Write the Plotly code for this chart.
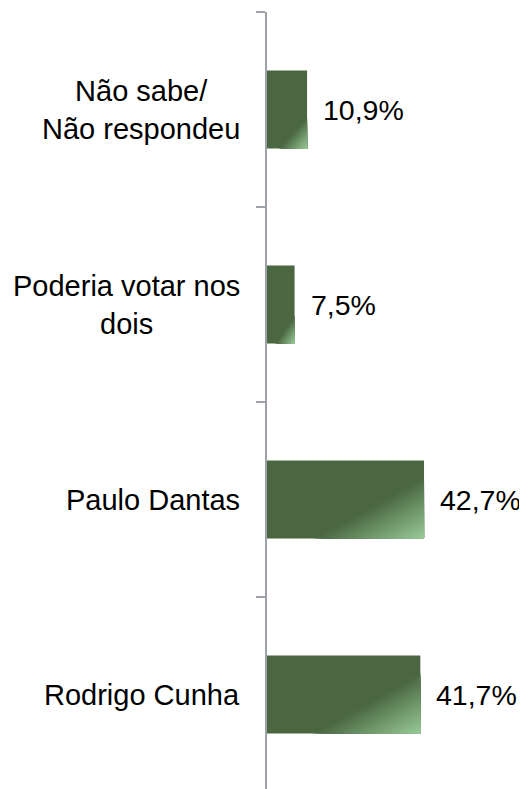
import plotly.graph_objects as go

# Data (bottom to top)
categories = ["Rodrigo Cunha", "Paulo Dantas", "Poderia votar nos<br>dois", "Não sabe/<br>Não respondeu"]
values = [41.7, 42.7, 7.5, 10.9]

DARK = (74, 103, 65)
LIGHT = (152, 202, 152)
BAR_W = 0.4
FONT = "Arial, Liberation Sans, sans-serif"

fig = go.Figure()
fig.add_trace(go.Bar(
    x=values, y=list(range(len(values))), orientation="h", width=BAR_W,
    marker=dict(color="rgb(%d,%d,%d)" % DARK, line=dict(width=0)),
    hoverinfo="skip", showlegend=False,
))

# diagonal gradient in the lower-right corner of each bar (nested triangles)
steps = 28
vmax = max(values)
for k in range(steps):
    s = 1 - k / steps
    f = (k + 0.5) / steps
    col = tuple(int(round(DARK[i] + (LIGHT[i] - DARK[i]) * f)) for i in range(3))
    xs, ys = [], []
    for i, v in enumerate(values):
        fb = 0.7
        fr = 0.4 + (v - 10.9) * (0.385 / 31.8)
        bot = i - BAR_W / 2
        xs += [v - s * fb * v, v, v, v - s * fb * v, None]
        ys += [bot, bot, bot + s * fr * BAR_W, bot, None]
    fig.add_trace(go.Scatter(
        x=xs, y=ys, mode="lines", fill="toself", line=dict(width=0),
        fillcolor="rgb(%d,%d,%d)" % col, hoverinfo="skip", showlegend=False,
    ))

annotations = []
for i, (c, v) in enumerate(zip(categories, values)):
    annotations.append(dict(
        x=v, y=i, xref="x", yref="y", xanchor="left", yanchor="middle",
        xshift=14, showarrow=False,
        text=f"{v:.1f}".replace(".", ",") + "%",
        font=dict(family=FONT, size=28.5, color="#000000"),
    ))
    annotations.append(dict(
        x=0, y=i, xref="paper", yref="y", xanchor="right", yanchor="middle",
        xshift=-25, showarrow=False, align="center", text=c,
        font=dict(family=FONT, size=29, color="#000000"),
    ))

n = len(categories)
fig.update_layout(
    width=519, height=781,
    margin=dict(l=259, r=0, t=4, b=0),
    paper_bgcolor="white", plot_bgcolor="white",
    annotations=annotations,
    xaxis=dict(range=[0, 70.7], visible=False, fixedrange=True),
    yaxis=dict(
        range=[-0.5 + 3 / 195, n - 0.5],
        tickvals=[i + 0.5 for i in range(-1, n)],
        ticktext=[""] * (n + 1),
        ticks="outside", ticklen=9, tickwidth=1.5, tickcolor="#9da2a8",
        showline=True, linecolor="#9da2a8", linewidth=2,
        showgrid=False, zeroline=False, fixedrange=True,
    ),
)

fig.write_html("out.html")
